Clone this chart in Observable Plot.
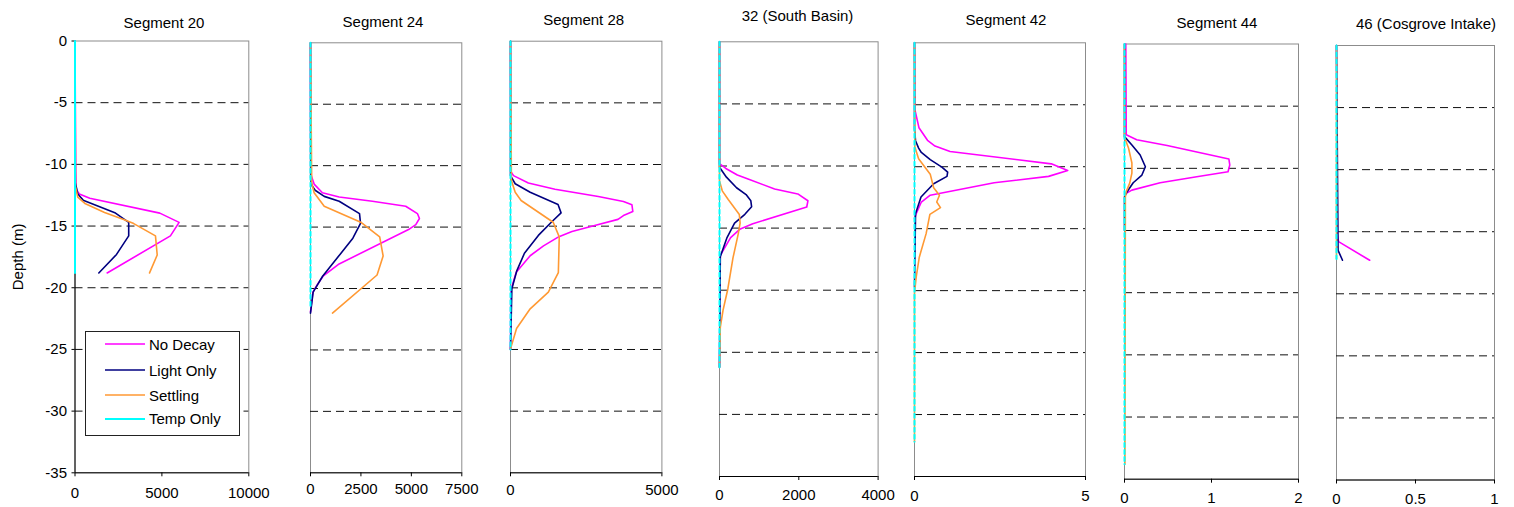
<!DOCTYPE html>
<html>
<head>
<meta charset="utf-8">
<script src="https://cdn.jsdelivr.net/npm/d3@7"></script>
<script src="https://cdn.jsdelivr.net/npm/@observablehq/plot@0.6"></script>
<style>
  html, body { margin: 0; padding: 0; background: #fff; }
  #chart { position: relative; width: 1514px; height: 507px; overflow: hidden;
           font-family: "Liberation Sans", Arial, sans-serif; color: #000; }
  #chart svg { position: absolute; top: 0; overflow: visible; max-width: none; }
  .title { position: absolute; font-size: 15px; line-height: 1; white-space: nowrap;
           transform: translate(-50%, -50%); }
  .legend { position: absolute; box-sizing: border-box; background: #fff;
            border: 1.2px solid #222; }
  .legend .item { position: absolute; left: 0; font-size: 15px; line-height: 1; white-space: nowrap; }
  .legend svg { position: absolute !important; }
</style>
</head>
<body>
<div id="chart"></div>
<script>
// Profiles of concentration against depth, [depth (m), value] per model run.
const seriesNames = ["No Decay", "Light Only", "Settling", "Temp Only"];
const seriesColors = ["#ff00ff", "#000080", "#ff9933", "#00ffff"];

const panelTitles = ["Segment 20", "Segment 24", "Segment 28", "32 (South Basin)",
                     "Segment 42", "Segment 44", "46 (Cosgrove Intake)"];
const xMax = [10000, 7500, 5000, 4000, 5, 2, 1];
const xTicks = [[0, 5000, 10000], [0, 2500, 5000, 7500], [0, 5000], [0, 2000, 4000],
                [0, 5], [0, 1, 2], [0, 0.5, 1]];
const depthTicks = [0, -5, -10, -15, -20, -25, -30, -35];
const gridDepths = [-5, -10, -15, -20, -25, -30];

// Segment 20
const noDecay20 = [[0,0],[-10.6,40],[-11.8,60],[-12.1,100],[-12.4,250],[-12.75,850],[-13.95,4880],[-14.7,5990],[-15.8,5490],[-18.8,1850]];
const lightOnly20 = [[0,0],[-11.5,20],[-12.4,160],[-12.9,470],[-13.95,2330],[-14.7,3090],[-15.8,3090],[-17.3,2390],[-18.8,1370]];
const settling20 = [[0,0],[-11.8,30],[-12.65,160],[-13.2,600],[-13.9,1700],[-14.46,2800],[-14.8,3380],[-15.8,4630],[-17.35,4730],[-18.8,4290]];
const tempOnly20 = [[0,0],[-18.8,0]];

// Segment 24
const noDecay24 = [[0,0],[-10.7,15],[-11.5,180],[-12.2,590],[-12.55,1420],[-12.9,3070],[-13.3,4720],[-13.9,5300],[-14.3,5400],[-14.8,5220],[-15.2,4860],[-18.0,1420],[-19.0,620],[-19.7,330],[-20.3,120],[-21.9,0]];
const lightOnly24 = [[0,0],[-11.0,10],[-11.6,60],[-12.0,230],[-12.5,680],[-12.9,1420],[-13.9,2430],[-14.7,2480],[-15.9,2100],[-17.4,1380],[-19.0,600],[-20.3,130],[-22.0,0]];
const settling24 = [[0,0],[-11.4,60],[-12.2,180],[-13.3,680],[-14.6,2490],[-15.8,3430],[-17.35,3600],[-18.9,3300],[-22.0,1090]];
const tempOnly24 = [[0,0],[-21.4,0]];

// Segment 28
const noDecay28 = [[0,0],[-10.6,20],[-10.9,100],[-11.5,590],[-12.0,1470],[-12.6,2900],[-13.0,3730],[-13.27,4010],[-13.81,4040],[-14.14,3730],[-14.45,3550],[-14.95,2780],[-15.43,2030],[-15.85,1600],[-16.6,1090],[-17.4,650],[-18.73,190],[-20.2,10],[-25,0]];
const lightOnly28 = [[0,0],[-10.9,0],[-11.56,155],[-12.25,650],[-13.25,1570],[-13.92,1670],[-14.7,1340],[-15.75,920],[-17.2,460],[-18.6,210],[-20.08,45],[-25,0]];
const settling28 = [[0,0],[-11.3,30],[-12.25,155],[-12.92,350],[-14.68,1410],[-15.87,1610],[-18.77,1580],[-20.35,1250],[-21.7,650],[-23.3,200],[-24.95,0]];
const tempOnly28 = [[0,0],[-25,0]];

// 32 (South Basin)
const noDecay32 = [[0,0],[-9.8,0],[-10.2,160],[-10.73,450],[-11.05,720],[-11.85,1390],[-12.25,1975],[-12.8,2230],[-13.3,2200],[-14.65,840],[-15.1,510],[-15.77,280],[-17.2,20],[-26.2,0]];
const lightOnly32 = [[0,0],[-10.1,0],[-10.9,175],[-11.75,430],[-12.3,670],[-12.8,790],[-13.28,810],[-13.89,640],[-14.6,380],[-15.76,190],[-17.3,20],[-26.2,0]];
const settling32 = [[0,0],[-11.2,0],[-12.0,70],[-12.7,220],[-13.6,430],[-13.9,500],[-14.6,520],[-15.5,470],[-17.4,340],[-19.9,210],[-21.6,90],[-23.0,20],[-26.2,0]];
const tempOnly32 = [[0,0],[-26.2,0]];

// Segment 42
const noDecay42 = [[0,0],[-5.5,0.02],[-6.85,0.13],[-7.87,0.38],[-8.33,0.6],[-8.77,1.04],[-9.77,4.0],[-10.3,4.48],[-10.78,3.92],[-11.3,2.33],[-12.3,0.46],[-12.85,0.2],[-13.8,0.05],[-14.2,0]];
const lightOnly42 = [[0,0],[-6.95,0],[-7.9,0.03],[-8.5,0.12],[-8.85,0.2],[-9.43,0.46],[-10.03,0.8],[-10.44,0.97],[-10.78,0.95],[-11.37,0.56],[-12.45,0.19],[-13.8,0.03],[-19.7,0]];
const settling42 = [[0,0],[-8.4,0.01],[-9.35,0.12],[-10.6,0.46],[-11.7,0.56],[-12.3,0.73],[-12.85,0.65],[-13.3,0.76],[-13.85,0.45],[-15.4,0.34],[-17.3,0.14],[-18.9,0.05],[-20.2,0],[-32.2,0]];
const tempOnly42 = [[0,0],[-32.2,0]];

// Segment 44
const noDecay44 = [[0,0.015],[-7.3,0.02],[-7.7,0.14],[-8.17,0.49],[-9.25,1.2],[-9.73,1.21],[-10.27,1.19],[-10.68,0.83],[-11.16,0.41],[-11.75,0.085],[-12.0,0.02]];
const lightOnly44 = [[0,0],[-7.45,0],[-8.12,0.085],[-8.93,0.18],[-9.87,0.24],[-10.54,0.2],[-11.16,0.1],[-11.88,0.03],[-12.3,0],[-15,0]];
const settling44 = [[0,0],[-7.5,0],[-8.36,0.046],[-9.57,0.085],[-10.38,0.085],[-11.19,0.06],[-11.87,0.02],[-12.3,0.01],[-33.8,0.005]];
const tempOnly44 = [[0,0],[-33.8,0]];

// 46 (Cosgrove Intake)
const noDecay46 = [[0,0],[-15.2,0.005],[-15.8,0.013],[-17.3,0.21]];
const lightOnly46 = [[0,0],[-16.5,0.01],[-17.3,0.038]];
const settling46 = [[0,0],[-17.2,0]];
const tempOnly46 = [[0,0],[-17.2,0]];

const panelSeries = [
  [noDecay20, lightOnly20, settling20, tempOnly20],
  [noDecay24, lightOnly24, settling24, tempOnly24],
  [noDecay28, lightOnly28, settling28, tempOnly28],
  [noDecay32, lightOnly32, settling32, tempOnly32],
  [noDecay42, lightOnly42, settling42, tempOnly42],
  [noDecay44, lightOnly44, settling44, tempOnly44],
  [noDecay46, lightOnly46, settling46, tempOnly46]
];

// Placement of each panel's plotting frame on the page (px) and its title.
const layout = [
  {x0: 74.5,   x1: 248.3,  top: 40.5, bottom: 472.3, labelGap: 14.2, tx: 164,    ty: 21.7},
  {x0: 309.7,  x1: 461,    top: 42.3, bottom: 472.3, labelGap: 11,   tx: 383,    ty: 20.7},
  {x0: 510.3,  x1: 661.7,  top: 40.7, bottom: 472.3, labelGap: 12,   tx: 583.7,  ty: 19},
  {x0: 718.7,  x1: 877.3,  top: 41.3, bottom: 476,   labelGap: 12.5, tx: 797.5,  ty: 15},
  {x0: 914.3,  x1: 1085.3, top: 42.3, bottom: 476,   labelGap: 13.5, tx: 1006,   ty: 19},
  {x0: 1124.3, x1: 1298.3, top: 43.5, bottom: 478.7, labelGap: 12.8, tx: 1217,   ty: 21.7},
  {x0: 1336.3, x1: 1494.3, top: 45,   bottom: 479.5, labelGap: 13.5, tx: 1426,   ty: 23.3}
];

const chart = document.getElementById("chart");
const toRows = arr => arr.map(([d, v]) => ({d, v}));

layout.forEach((L, i) => {
  const first = i === 0;
  const frameW = L.x1 - L.x0;
  const ml = first ? L.x0 : 8;
  const width = Math.ceil(ml + frameW + 20);
  const mr = width - ml - frameW;

  const lines = panelSeries[i].map((arr, k) =>
    Plot.line(toRows(arr), {
      x: "v", y: "d",
      stroke: seriesColors[k],
      strokeWidth: k === 3 ? 2 : 1.6,
      strokeDasharray: (k === 3 && !first) ? "4,3" : null,
      strokeLinejoin: "round"
    })
  );

  const marks = [
    Plot.frame({stroke: "#8c8c8c"}),
    Plot.ruleY(gridDepths, {stroke: "#111", strokeWidth: 1, strokeDasharray: "8,5"}),
    Plot.ruleY([-35], {stroke: "#000"}),
    Plot.axisX(xTicks[i], {
      tickSize: 4, tickPadding: L.labelGap - 4,
      tickFormat: d => String(d), label: null, stroke: "#000"
    })
  ];
  if (first) {
    marks.push(Plot.ruleX([0], {stroke: "#000"}));
    marks.push(Plot.axisY(depthTicks, {
      tickSize: 3, tickPadding: 5, tickFormat: d => String(d),
      label: "Depth (m)", labelAnchor: "center", labelArrow: "none",
      labelOffset: L.x0 - 12
    }));
  }
  marks.push(...lines);

  const svg = Plot.plot({
    width, height: 507,
    marginLeft: ml, marginRight: mr, marginTop: L.top, marginBottom: 507 - L.bottom,
    style: {fontFamily: '"Liberation Sans", Arial, sans-serif', fontSize: "15px",
            color: "#000", background: "transparent", overflow: "visible"},
    x: {domain: [0, xMax[i]]},
    y: {domain: [-35, 0], axis: first ? undefined : null},
    marks
  });
  svg.style.left = (L.x0 - ml) + "px";
  chart.appendChild(svg);

  const t = document.createElement("div");
  t.className = "title";
  t.textContent = panelTitles[i];
  t.style.left = L.tx + "px";
  t.style.top = L.ty + "px";
  chart.appendChild(t);
});

// Legend box inside the first panel
const legend = document.createElement("div");
legend.className = "legend";
Object.assign(legend.style, {left: "85px", top: "331px", width: "154.5px", height: "104.5px"});
const legendRows = [12.3, 38.3, 63.3, 86.7];
seriesNames.forEach((name, k) => {
  const s = document.createElementNS("http://www.w3.org/2000/svg", "svg");
  s.setAttribute("width", 42); s.setAttribute("height", 6);
  s.style.left = "18px"; s.style.top = (legendRows[k] - 3) + "px";
  const ln = document.createElementNS("http://www.w3.org/2000/svg", "line");
  ln.setAttribute("x1", 1); ln.setAttribute("x2", 41); ln.setAttribute("y1", 3); ln.setAttribute("y2", 3);
  ln.setAttribute("stroke", seriesColors[k]); ln.setAttribute("stroke-width", k === 3 ? 2 : 1.6);
  s.appendChild(ln);
  legend.appendChild(s);
  const lab = document.createElement("div");
  lab.className = "item";
  lab.textContent = name;
  lab.style.left = "63px";
  lab.style.top = (legendRows[k] - 7.5) + "px";
  legend.appendChild(lab);
});
chart.appendChild(legend);
</script>
</body>
</html>
